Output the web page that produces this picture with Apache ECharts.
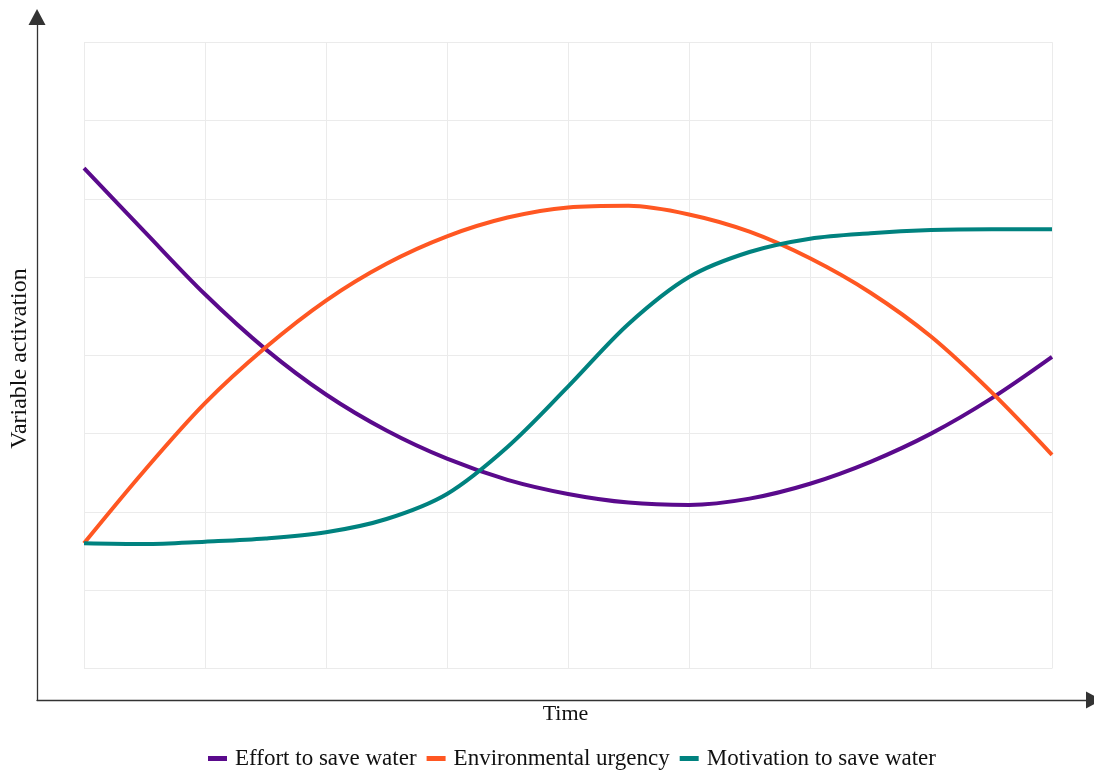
<!DOCTYPE html>
<html>
<head>
<meta charset="utf-8">
<script src="https://cdn.jsdelivr.net/npm/echarts@6/dist/echarts.min.js"></script>
<style>
html,body{margin:0;padding:0;background:#fff;}
#chart{width:1094px;height:771px;}
</style>
</head>
<body>
<div id="chart"></div>
<script>
// Time positions (grid units) and series values
var timePoints = [0, 0.5, 1, 1.5, 2, 2.5, 3, 3.5, 4, 4.5, 5, 5.5, 6, 6.5, 7, 7.5, 8];
var effortValues = [6.39, 5.58, 4.78, 4.08, 3.50, 3.04, 2.68, 2.41, 2.23, 2.12, 2.09, 2.17, 2.36, 2.64, 3.00, 3.45, 3.98];
var urgencyValues = [1.60, 2.53, 3.39, 4.10, 4.70, 5.17, 5.52, 5.76, 5.89, 5.91, 5.80, 5.58, 5.24, 4.80, 4.24, 3.53, 2.73];
var motivationValues = [1.60, 1.59, 1.62, 1.66, 1.74, 1.91, 2.23, 2.83, 3.60, 4.40, 5.00, 5.32, 5.49, 5.56, 5.60, 5.61, 5.61];
var seriesNames = ['Effort to save water', 'Environmental urgency', 'Motivation to save water'];
var seriesColors = ['#5a0a8c', '#ff5722', '#00827f'];

function pairs(vals) {
  return vals.map(function (v, i) { return [timePoints[i], v]; });
}

var FONT = '"Liberation Serif", "Times New Roman", serif';
var chart = echarts.init(document.getElementById('chart'), null, {renderer: 'canvas'});

var allValues = [effortValues, urgencyValues, motivationValues];

chart.setOption({
  animation: false,
  backgroundColor: '#ffffff',
  textStyle: {fontFamily: FONT},
  legend: {
    top: 742,
    left: 203,
    icon: 'rect',
    itemWidth: 19,
    itemHeight: 5,
    itemGap: 10,
    textStyle: {fontFamily: FONT, fontSize: 23, color: '#111', padding: [0, 0, 0, 3]},
    data: seriesNames
  },
  grid: [
    {left: 34, right: 0, top: 17, bottom: 71, containLabel: false},
    {left: 84, right: 42, top: 42.2, bottom: 102.5, containLabel: false}
  ],
  xAxis: [
    {
      gridIndex: 0, type: 'value', min: 0, max: 1,
      name: 'Time', nameLocation: 'middle', nameGap: 3,
      nameTextStyle: {fontFamily: FONT, fontSize: 22, color: '#111', verticalAlign: 'top'},
      axisLine: {show: true, lineStyle: {color: '#333', width: 1.3}, symbol: ['none', 'triangle'], symbolSize: [17, 16]},
      axisTick: {show: false}, axisLabel: {show: false}, splitLine: {show: false}
    },
    {
      gridIndex: 1, type: 'value', min: 0, max: 8, interval: 1,
      axisLine: {show: false}, axisTick: {show: false}, axisLabel: {show: false},
      splitLine: {show: true, lineStyle: {color: '#ebebeb', width: 1}}
    }
  ],
  yAxis: [
    {
      gridIndex: 0, type: 'value', min: 0, max: 1,
      name: 'Variable activation', nameLocation: 'middle', nameGap: 5,
      nameTextStyle: {fontFamily: FONT, fontSize: 24, color: '#111'},
      axisLine: {show: true, lineStyle: {color: '#333', width: 1.3}, symbol: ['none', 'triangle'], symbolSize: [17, 16]},
      axisTick: {show: false}, axisLabel: {show: false}, splitLine: {show: false}
    },
    {
      gridIndex: 1, type: 'value', min: 0, max: 8, interval: 1,
      axisLine: {show: false}, axisTick: {show: false}, axisLabel: {show: false},
      splitLine: {show: true, lineStyle: {color: '#ebebeb', width: 1}}
    }
  ],
  series: seriesNames.map(function (name, i) {
    return {
      name: name,
      type: 'line',
      xAxisIndex: 1,
      yAxisIndex: 1,
      data: pairs(allValues[i]),
      smooth: 0.33,
      showSymbol: false,
      symbol: 'none',
      lineStyle: {color: seriesColors[i], width: 4},
      itemStyle: {color: seriesColors[i]},
      z: 3 + i
    };
  })
});
</script>
</body>
</html>
